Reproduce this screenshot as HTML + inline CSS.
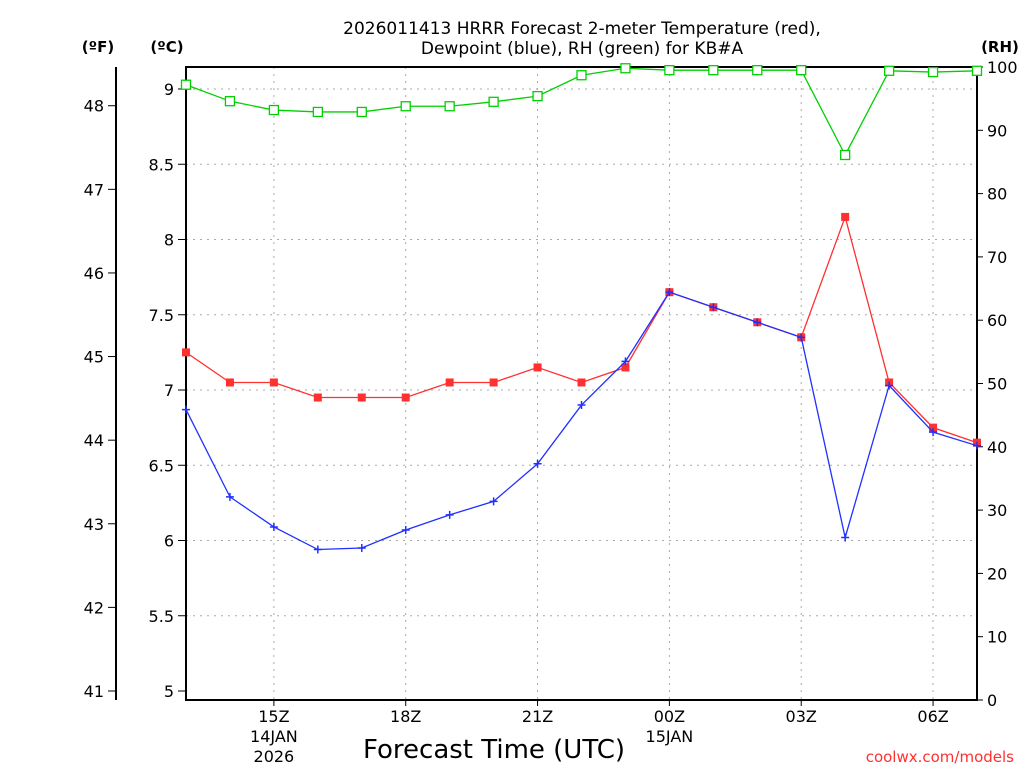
<!DOCTYPE html>
<html><head><meta charset="utf-8"><style>
body{margin:0;background:#fff;width:1024px;height:768px;overflow:hidden;font-family:"DejaVu Sans","Liberation Sans",sans-serif}
</style></head><body>
<svg id="chart" width="1024" height="768" xmlns="http://www.w3.org/2000/svg" font-family="DejaVu Sans, Liberation Sans, sans-serif">
<text x="582" y="34" text-anchor="middle" font-size="17">2026011413 HRRR Forecast 2-meter Temperature (red),</text>
<text x="582" y="54" text-anchor="middle" font-size="17">Dewpoint (blue), RH (green) for KB#A</text>
<text x="98" y="52" text-anchor="middle" font-size="15" font-weight="bold">(ºF)</text>
<text x="167" y="52" text-anchor="middle" font-size="15" font-weight="bold">(ºC)</text>
<text x="1000" y="52" text-anchor="middle" font-size="15" font-weight="bold">(RH)</text>
<text x="494" y="758" text-anchor="middle" font-size="26">Forecast Time (UTC)</text>
<text x="1014" y="762" text-anchor="end" font-size="15" fill="#ff3030">coolwx.com/models</text>
<g id="grid"></g><g id="axes"></g><g id="series"></g>
</svg>
<script>
const hours=[13,14,15,16,17,18,19,20,21,22,23,24,25,26,27,28,29,30,31];
const tempC=[7.25,7.05,7.05,6.95,6.95,6.95,7.05,7.05,7.15,7.05,7.15,7.65,7.55,7.45,7.35,8.15,7.05,6.75,6.65];
const dewC=[6.87,6.29,6.09,5.94,5.95,6.07,6.17,6.26,6.51,6.90,7.19,7.65,7.55,7.45,7.35,6.02,7.03,6.72,6.63];
const rh=[97.2,94.6,93.2,92.9,92.9,93.8,93.8,94.5,95.4,98.7,99.8,99.5,99.5,99.5,99.5,86.1,99.4,99.2,99.4];
const cTicks=[5,5.5,6,6.5,7,7.5,8,8.5,9];
const fTicks=[41,42,43,44,45,46,47,48];
const rhTicks=[0,10,20,30,40,50,60,70,80,90,100];
const xTickHours=[15,18,21,24,27,30];
const xTickLabels=["15Z","18Z","21Z","00Z","03Z","06Z"];
const L=186,R=977,T=67,B=700;
const X=h=>L+(h-13)*(R-L)/18;
const YC=c=>691-(c-5)*150.5;
const YR=v=>700-v*6.33;
const NS="http://www.w3.org/2000/svg";
function mk(p,tag,a){const e=document.createElementNS(NS,tag);for(const k in a)e.setAttribute(k,a[k]);p.appendChild(e);return e;}
const grid=document.getElementById('grid'),axes=document.getElementById('axes'),ser=document.getElementById('series');
cTicks.forEach(c=>{const y=YC(c);
 if(c>5){const g=mk(grid,'line',{x1:L,x2:R,y1:y,y2:y,stroke:'#aaa','stroke-dasharray':'2,5'});
 }
 mk(axes,'line',{x1:L-8,x2:L,y1:y,y2:y,stroke:'#000'});
 const t=mk(axes,'text',{x:L-12,y:y+6,'text-anchor':'end','font-size':'16'});t.textContent=String(c);
 });
fTicks.forEach(f=>{const y=YC((f-32)/1.8);
 mk(axes,'line',{x1:108,x2:116,y1:y,y2:y,stroke:'#000'});
 const t=mk(axes,'text',{x:104,y:y+6,'text-anchor':'end','font-size':'16'});t.textContent=String(f);
 });
mk(axes,'line',{x1:116,x2:116,y1:T,y2:B,stroke:'#000','stroke-width':2});
rhTicks.forEach(v=>{const y=YR(v);
 mk(axes,'line',{x1:R,x2:R+6,y1:y,y2:y,stroke:'#000'});
 const t=mk(axes,'text',{x:R+10,y:y+6,'font-size':'16'});t.textContent=String(v);
 });
xTickHours.forEach((h,i)=>{const x=X(h);
 const g=mk(grid,'line',{x1:x,x2:x,y1:T,y2:B,stroke:'#aaa','stroke-dasharray':'2,5'});
 
 mk(axes,'line',{x1:x,x2:x,y1:B,y2:B+6,stroke:'#000'});
 const t=mk(axes,'text',{x:x,y:722,'text-anchor':'middle','font-size':'16'});t.textContent=xTickLabels[i];
 });
[[X(15),"14JAN",742],[X(15),"2026",762],[X(24),"15JAN",742]].forEach(d=>{
 const t=mk(axes,'text',{x:d[0],y:d[2],'text-anchor':'middle','font-size':'16'});t.textContent=d[1];
 });
const fr=mk(axes,'rect',{x:L,y:T,width:R-L,height:B-T,fill:'none',stroke:'#000','stroke-width':2});

const cp=mk(ser,'clipPath',{id:'cp'});mk(cp,'rect',{x:L-6,y:T-6,width:R-L+12,height:B-T+12});
function line(vals,yf,col,name,marker){
 const g=mk(ser,'g',{});
 const pts=vals.map((v,i)=>X(hours[i])+','+yf(v)).join(' ');
 mk(g,'polyline',{points:pts,fill:'none',stroke:col,'stroke-width':1.3});
 vals.forEach((v,i)=>{const x=X(hours[i]),y=yf(v);let m;
  if(marker==='fsq')m=mk(g,'rect',{x:x-4,y:y-4,width:8,height:8,fill:col});
  else if(marker==='sq')m=mk(g,'rect',{x:x-4.5,y:y-4.5,width:9,height:9,fill:'#fff',stroke:col,'stroke-width':1.3});
  else m=mk(g,'path',{d:`M${x-4} ${y}H${x+4}M${x} ${y-4}V${y+4}`,stroke:col,'stroke-width':1.5});
  });
}
line(rh,YR,'#00d000','rh-series','sq');
line(tempC,YC,'#ff3030','temperature-series','fsq');
line(dewC,YC,'#2030ff','dewpoint-series','plus');
</script>
</body></html>
